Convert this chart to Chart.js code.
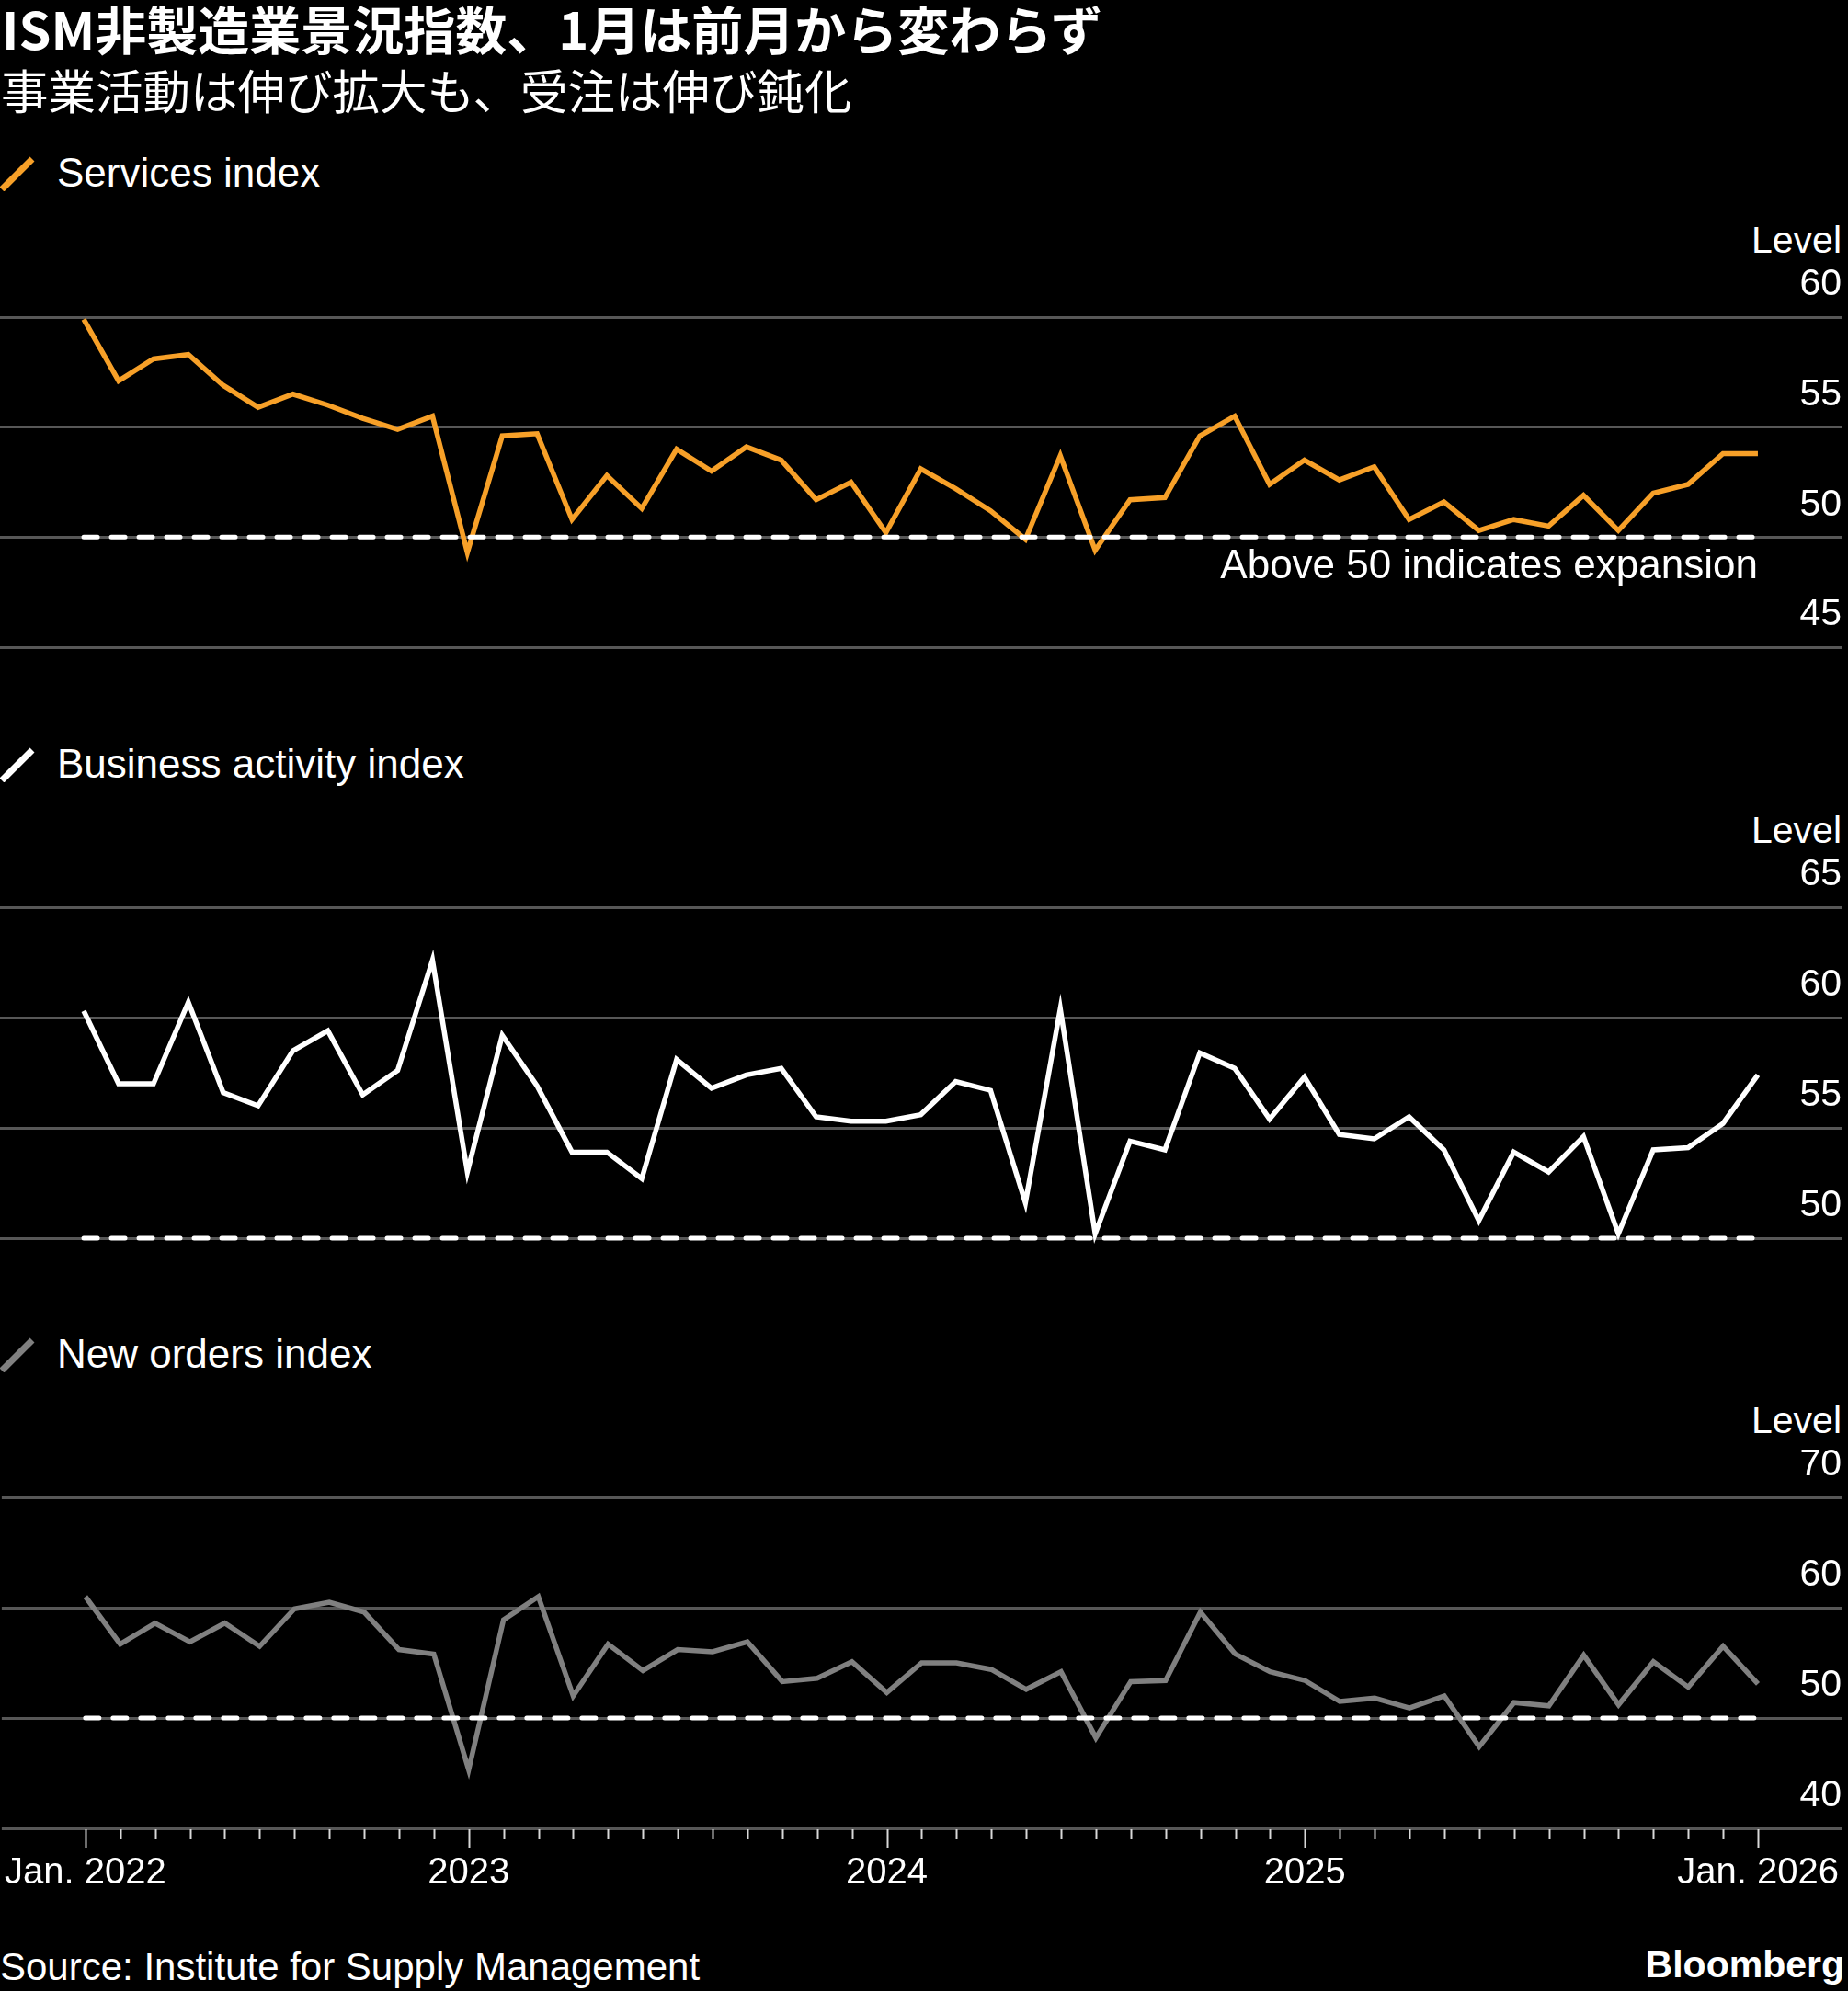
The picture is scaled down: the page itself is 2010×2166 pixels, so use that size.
<!DOCTYPE html>
<html lang="ja">
<head>
<meta charset="utf-8">
<title>ISM非製造業景況指数</title>
<script src="https://cdn.jsdelivr.net/npm/chart.js@4.4.1/dist/chart.umd.min.js"></script>
<style>
  html, body { margin: 0; padding: 0; background: #000; }
  #page {
    position: relative; width: 2010px; height: 2166px; overflow: hidden;
    background: #000; color: #fff;
    font-family: "Liberation Sans", Arial, sans-serif;
  }
  .txt { position: absolute; white-space: nowrap; line-height: 1; }
  .title { left: 2px; top: 2px; font-family: "Noto Sans CJK JP", sans-serif; font-weight: 700; font-size: 56px; }
  .subtitle { left: 1px; top: 71px; font-family: "Noto Sans CJK JP", sans-serif; font-weight: 400; font-size: 51.5px; }
  .legend { left: 62px; font-size: 44px; }
  .level { right: 7px; font-size: 41px; }
  .source { left: 0; top: 2119px; font-size: 42px; }
  .brand { right: 4px; top: 2117px; font-size: 41px; font-weight: 700; }
  .icon { position: absolute; left: 0; width: 40px; height: 40px; }
  canvas { position: absolute; left: 0; }
</style>
</head>
<body>
<div id="page">
  <div class="txt title">ISM非製造業景況指数、1月は前月から変わらず</div>
  <div class="txt subtitle">事業活動は伸び拡大も、受注は伸び鈍化</div>

  <svg class="icon" style="top:168px" viewBox="0 0 40 40"><line x1="2" y1="38" x2="35" y2="5" stroke="#f7a028" stroke-width="7"/></svg>
  <div class="txt legend" style="top:166px">Services index</div>
  <div class="txt level" style="top:241px">Level</div>
  <canvas id="servicesChart" width="2010" height="520" style="top:230px"></canvas>

  <svg class="icon" style="top:811px" viewBox="0 0 40 40"><line x1="2" y1="38" x2="35" y2="5" stroke="#ffffff" stroke-width="7"/></svg>
  <div class="txt legend" style="top:809px">Business activity index</div>
  <div class="txt level" style="top:883px">Level</div>
  <canvas id="businessChart" width="2010" height="520" style="top:870px"></canvas>

  <svg class="icon" style="top:1453px" viewBox="0 0 40 40"><line x1="2" y1="38" x2="35" y2="5" stroke="#808080" stroke-width="7"/></svg>
  <div class="txt legend" style="top:1451px">New orders index</div>
  <div class="txt level" style="top:1525px">Level</div>
  <canvas id="ordersChart" width="2010" height="600" style="top:1510px"></canvas>

  <div class="txt source">Source: Institute for Supply Management</div>
  <div class="txt brand">Bloomberg</div>
</div>

<script>
const months = [
  "2022-01", "2022-02", "2022-03", "2022-04", "2022-05", "2022-06", "2022-07", "2022-08", "2022-09", "2022-10", "2022-11", "2022-12",
  "2023-01", "2023-02", "2023-03", "2023-04", "2023-05", "2023-06", "2023-07", "2023-08", "2023-09", "2023-10", "2023-11", "2023-12",
  "2024-01", "2024-02", "2024-03", "2024-04", "2024-05", "2024-06", "2024-07", "2024-08", "2024-09", "2024-10", "2024-11", "2024-12",
  "2025-01", "2025-02", "2025-03", "2025-04", "2025-05", "2025-06", "2025-07", "2025-08", "2025-09", "2025-10", "2025-11", "2025-12",
  "2026-01"
];

const services = [
  59.9, 57.1, 58.1, 58.3, 56.9, 55.9, 56.5, 56.0, 55.4, 54.9, 55.5, 49.3,
  54.6, 54.7, 50.8, 52.8, 51.3, 54.0, 53.0, 54.1, 53.5, 51.7, 52.5, 50.2,
  53.1, 52.2, 51.2, 49.9, 53.7, 49.4, 51.7, 51.8, 54.6, 55.5, 52.4, 53.5,
  52.6, 53.2, 50.8, 51.6, 50.3, 50.8, 50.5, 51.9, 50.3, 52.0, 52.4, 53.8,
  53.8
];

const businessActivity = [
  60.3, 57.0, 57.0, 60.7, 56.6, 56.0, 58.5, 59.4, 56.5, 57.6, 62.6, 53.0,
  59.2, 56.9, 53.9, 53.9, 52.7, 58.1, 56.8, 57.4, 57.7, 55.5, 55.3, 55.3,
  55.6, 57.1, 56.7, 51.6, 60.4, 50.2, 54.4, 54.0, 58.4, 57.7, 55.4, 57.3,
  54.7, 54.5, 55.5, 54.0, 50.8, 53.9, 53.0, 54.6, 50.2, 54.0, 54.1, 55.2,
  57.4
];

const newOrders = [
  61.0, 56.7, 58.6, 56.9, 58.6, 56.5, 59.9, 60.5, 59.6, 56.2, 55.8, 45.3,
  58.9, 61.0, 52.0, 56.7, 54.3, 56.2, 56.0, 56.9, 53.3, 53.6, 55.1, 52.3,
  55.0, 55.0, 54.4, 52.6, 54.2, 48.2, 53.3, 53.4, 59.6, 55.8, 54.2, 53.4,
  51.5, 51.8, 50.9, 52.0, 47.4, 51.4, 51.1, 55.7, 51.2, 55.1, 52.8, 56.5,
  53.1
];

const servicesTicks = [45, 50, 55, 60];
const businessTicks = [50, 55, 60, 65];
const ordersTicks = [40, 50, 60, 70];

const majorMonths = ["2022-01", "2022-12", "2023-12", "2024-12", "2026-01"];
const majorLabels = ["Jan. 2022", "2023", "2024", "2025", "Jan. 2026"];

const expansionLevel = 50;
const expansionNote = "Above 50 indicates expansion";

const ORANGE = "#f7a028";
const WHITE = "#ffffff";
const GREY = "#808080";
const GRID = "#575757";

Chart.defaults.font.family = '"Liberation Sans", Arial, sans-serif';
Chart.defaults.color = "#ffffff";

// dashed 50 line across the data range, plus optional note under it
function expansionLine(note) {
    return {
        id: "expansionLine",
        afterDatasetsDraw(chart) {
            const { ctx, scales: { x, y } } = chart;
            const py = y.getPixelForValue(expansionLevel);
            const x0 = x.getPixelForValue(0);
            const x1 = x.getPixelForValue(months.length - 1);
            ctx.save();
            ctx.strokeStyle = WHITE;
            ctx.lineWidth = 5;
            ctx.lineCap = "round";
            ctx.setLineDash([15, 15]);
            ctx.beginPath();
            ctx.moveTo(x0, py);
            ctx.lineTo(x1, py);
            ctx.stroke();
            if (note) {
                ctx.setLineDash([]);
                ctx.fillStyle = WHITE;
                ctx.font = '44px "Liberation Sans", Arial, sans-serif';
                ctx.textAlign = "right";
                ctx.textBaseline = "alphabetic";
                ctx.fillText(note, x1, py + 45);
            }
            ctx.restore();
        },
    };
}

// monthly tick marks under the bottom panel
const monthTicks = {
    id: "monthTicks",
    afterDraw(chart) {
        const { ctx, chartArea, scales: { x } } = chart;
        ctx.save();
        ctx.strokeStyle = "#d9d9d9";
        ctx.lineWidth = 2;
        months.forEach((m, i) => {
            const px = Math.round(x.getPixelForValue(i)) + 0.5;
            const len = majorMonths.includes(m) ? 20 : 11;
            ctx.beginPath();
            ctx.moveTo(px, chartArea.bottom + 1);
            ctx.lineTo(px, chartArea.bottom + 1 + len);
            ctx.stroke();
        });
        ctx.restore();
    },
};

function makeChart(id, values, color, ticks, padding, withAxis, plugins) {
    const ctx = document.getElementById(id);
    return new Chart(ctx, {
        type: "line",
        data: {
            datasets: [
                {
                    data: values.map((v, i) => ({ x: i, y: v })),
                    borderColor: color,
                    borderWidth: 5.5,
                    pointRadius: 0,
                    tension: 0,
                    fill: false,
                    borderJoinStyle: "miter",
                    clip: 12,
                },
            ],
        },
        options: {
            responsive: false,
            animation: false,
            devicePixelRatio: 1,
            events: [],
            layout: { padding: padding },
            plugins: { legend: { display: false }, tooltip: { enabled: false } },
            scales: {
                x: {
                    type: "linear",
                    min: -2.4,
                    max: 50.4,
                    display: withAxis,
                    grid: { display: false, drawTicks: true, tickLength: 20 },
                    border: { display: false },
                    afterBuildTicks: (s) => {
                        s.ticks = months.map((m, i) => ({ value: i }));
                    },
                    afterFit: (s) => {
                        if (withAxis) s.height = 70;
                    },
                    ticks: {
                        autoSkip: false,
                        maxRotation: 0,
                        minRotation: 0,
                        padding: 5,
                        color: WHITE,
                        font: { size: 40 },
                        callback: (v) => {
                            const k = majorMonths.indexOf(months[v]);
                            return k >= 0 ? majorLabels[k] : "";
                        },
                    },
                },
                y: {
                    type: "linear",
                    position: "right",
                    min: ticks[0],
                    max: ticks[ticks.length - 1],
                    afterBuildTicks: (s) => {
                        s.ticks = ticks.map((v) => ({ value: v }));
                    },
                    grid: { color: GRID, lineWidth: 3, drawTicks: false },
                    border: { display: false },
                    ticks: {
                        mirror: true,
                        padding: 0,
                        labelOffset: -35,
                        color: WHITE,
                        font: { size: 41 },
                    },
                },
            },
        },
        plugins: plugins,
    });
}

makeChart("servicesChart", services, ORANGE, servicesTicks,
    { top: 115, bottom: 46, left: 0, right: 7 }, false, [expansionLine(expansionNote)]);
makeChart("businessChart", businessActivity, WHITE, businessTicks,
    { top: 117, bottom: 43, left: 0, right: 7 }, false, [expansionLine(null)]);
makeChart("ordersChart", newOrders, GREY, ordersTicks,
    { top: 119, bottom: 51, left: 0, right: 7 }, true, [expansionLine(null), monthTicks]);
</script>
</body>
</html>
